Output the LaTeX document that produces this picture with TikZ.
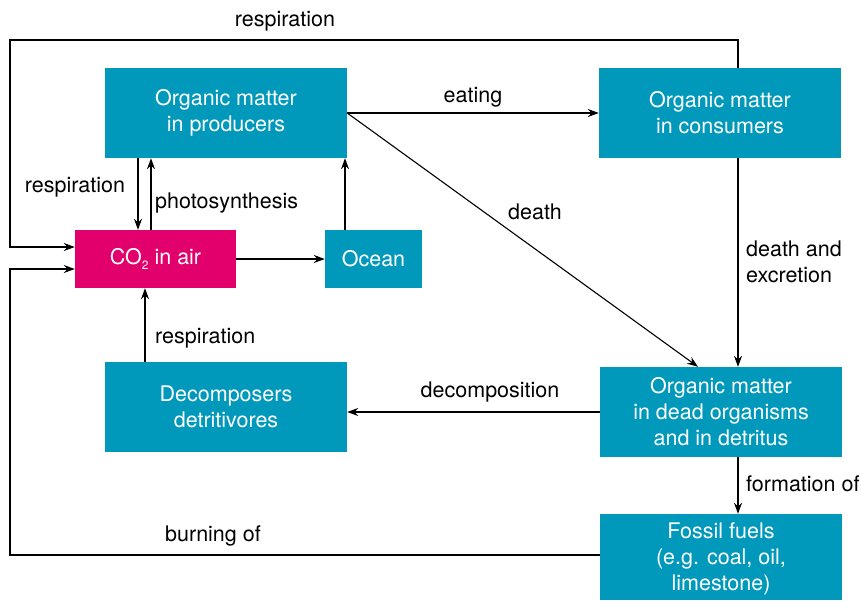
\documentclass[tikz,border=0pt]{standalone}
\usepackage{fontspec}
\setmainfont{TeX Gyre Heros}
\usetikzlibrary{arrows.meta}
\definecolor{teal}{HTML}{0099BC}
\definecolor{mag}{HTML}{E2006C}
\begin{document}
\begin{tikzpicture}[x=1pt,y=-1pt,
  box/.style={fill=teal,text=white,align=center,inner sep=0pt,font=\fontsize{21.5}{26}\selectfont},
  lbl/.style={font=\fontsize{21.5}{26}\selectfont,inner sep=0pt,align=left},
  arr/.style={-{Stealth[length=11pt,width=8pt]},line width=1.1pt}]
\useasboundingbox (0,0) rectangle (861,600);
\node[box,minimum width=242,minimum height=90] (prod) at (226,113) {Organic matter\\in producers};
\node[box,minimum width=242,minimum height=90] (cons) at (720,113) {Organic matter\\in consumers};
\node[box,fill=mag,minimum width=161,minimum height=58] (co2) at (155.5,259) {CO\raisebox{-0.45ex}{\fontsize{12}{12}\selectfont 2} in air};
\node[box,minimum width=97,minimum height=58] (ocean) at (373.5,259) {Ocean};
\node[box,minimum width=242,minimum height=90] (dec) at (226,407) {Decomposers\\detritivores};
\node[box,minimum width=242,minimum height=90] (dead) at (721,412) {Organic matter\\in dead organisms\\and in detritus};
\node[box,minimum width=242,minimum height=86,text depth=0pt] (fos) at (721,557) {Fossil fuels\\(e.g. coal, oil,\\limestone)};
\coordinate (tl) at (10,40);
\coordinate (bl) at (10,555);
% respiration top
\draw[arr] (cons.north -| 738,0) |- (tl) |- (co2.west |- 0,247);
% burning
\draw[arr] (fos.west |- 0,555) -- (bl) |- (co2.west |- 0,269);
% producers <-> co2
\draw[arr] (prod.south -| 138,0) -- (co2.north -| 138,0);
\draw[arr] (co2.north -| 151,0) -- (prod.south -| 151,0);
\draw[arr] (co2.east) -- (ocean.west);
\draw[arr] (ocean.north -| 345,0) -- (prod.south -| 345,0);
\draw[arr] (prod.east) -- (cons.west);
\draw[arr] (prod.east) -- (dead.north -| 698,0);
\draw[arr] (cons.south -| 738,0) -- (dead.north -| 738,0);
\draw[arr] (dead.west) -- (dec.east |- dead.west);
\draw[arr] (dec.north -| 145,0) -- (co2.south -| 145,0);
\draw[arr] (dead.south -| 738,0) -- (fos.north -| 738,0);
% labels
\node[lbl] (l1) at (285,21) {respiration};
\node[lbl] (l2) at (473,97) {eating};
\node[lbl] (l3) at (75,187) {respiration};
\node[lbl,anchor=west] (l4) at (155,203) {photosynthesis};
\node[lbl] (l5) at (535,212) {death};
\node[lbl,anchor=west] (l6) at (746,262) {death and\\excretion};
\node[lbl,anchor=west] (l7) at (155,338) {respiration};
\node[lbl] (l8) at (490,392) {decomposition};
\node[lbl,anchor=west] (l9) at (746,484) {formation of};
\node[lbl] (l10) at (213,536) {burning of};
\end{tikzpicture}
\end{document}
